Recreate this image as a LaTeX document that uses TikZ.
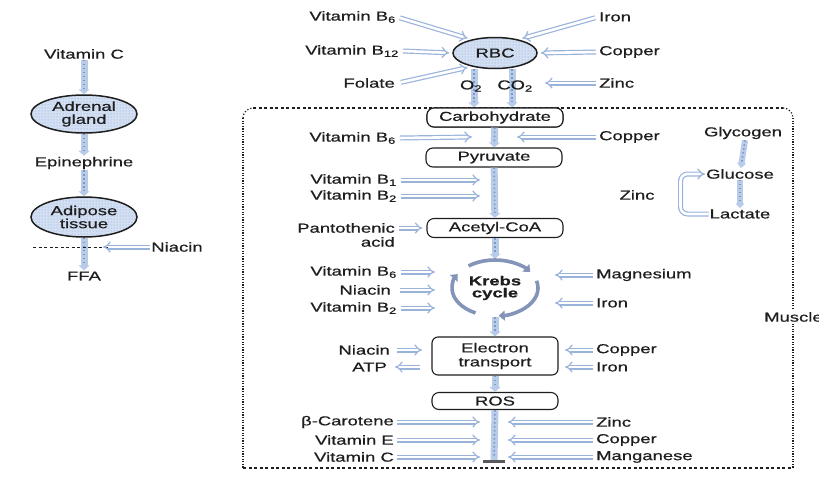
\documentclass[tikz,border=0pt]{standalone}
\usepackage{fontspec}
\setmainfont{Liberation Sans}[FakeStretch=1.42, FakeBold=0.6]
\usetikzlibrary{arrows.meta,shapes.geometric,patterns}
\definecolor{txtc}{HTML}{1E1E1E}
\definecolor{dblc}{HTML}{9AB3DB}
\definecolor{barc}{HTML}{B8CCEA}
\definecolor{bardot}{HTML}{7F98C4}
\definecolor{ellfill}{HTML}{D3E0F3}
\definecolor{dotc}{HTML}{8AA3CC}
\definecolor{cycc}{HTML}{8493B8}
\newcommand{\lblfont}{\fontsize{13}{14}\selectfont}
\begin{document}
\begin{tikzpicture}[x=1pt,y=-1pt,
  lbl/.style={font=\lblfont, text=txtc, inner sep=1pt},
  ell/.style={ellipse, draw=txtc, line width=1.5pt, preaction={fill=ellfill}, pattern=dots, pattern color=dotc, inner sep=0pt, align=center, font=\fontsize{13}{13}\selectfont, text=txtc},
  box/.style={draw=txtc, line width=1.1pt, fill=white, rounded corners=7pt, minimum width=136pt, minimum height=19pt, inner sep=1pt, font=\lblfont, text=txtc, align=center},
  dbl/.style={draw=dblc, double=white, double distance=2.6pt, line width=1.2pt, -{Implies}},
  bar/.style={line width=7pt, draw=barc, -{Triangle[width=11pt,length=5pt]}, postaction={draw=bardot, line width=1.6pt, dash pattern=on 1.5pt off 2.5pt, arrows=-, shorten >=5pt}},
  cyc/.style={line width=3.6pt, draw=cycc, -{Triangle[width=10pt,length=6pt]}},
  frameh/.style={draw=txtc, line width=1.1pt, dash pattern=on 3pt off 2.5pt},
  framev/.style={draw=txtc, line width=1.3pt, dash pattern=on 1.2pt off 1.4pt}
]
\useasboundingbox (0,0) rectangle (819,480);
\fill[white] (0,0) rectangle (819,480);

% ---------- muscle frame ----------
\draw[frameh] (253,108) -- (783,108);
\draw[framev] (243,118) -- (243,468);
\draw[framev] (793,118) -- (793,468);
\draw[frameh] (243,468) -- (793,468);
\draw[line width=1.2pt, draw=txtc, dotted] (243,118) arc[start angle=180, end angle=270, radius=10];
\draw[line width=1.2pt, draw=txtc, dotted] (783,108) arc[start angle=270, end angle=360, radius=10];
\node[lbl, fill=white, inner sep=2pt, anchor=west] (muscle) at (762,317) {Muscle};

% ---------- left column ----------
\node[lbl] (vc) at (84,54) {Vitamin C};
\node[ell, minimum width=106pt, minimum height=38pt] (adr) at (84,114) {Adrenal\\gland};
\node[lbl] (epi) at (84,163) {Epinephrine};
\node[ell, minimum width=106pt, minimum height=40pt] (adi) at (84,217) {Adipose\\tissue};
\node[lbl] (ffa) at (84,276) {FFA};
\node[lbl] (niacL) at (177,247) {Niacin};
\coordinate (dashL) at (33,247);
\coordinate (dashR) at (112,247);
\coordinate (niacEnd) at (103,247);
\draw[bar] (vc) -- (adr);
\draw[bar] (adr) -- (epi);
\draw[bar] (epi) -- (adi);
\draw[bar] (adi) -- (ffa);
\draw[txtc, line width=0.9pt, dash pattern=on 3pt off 2.5pt] (dashL) -- (dashR);
\draw[dbl] (niacL.west) -- (niacEnd);

% ---------- RBC ----------
\node[ell, minimum width=84pt, minimum height=31pt] (rbc) at (495,53) {RBC};
\node[box] (carb) at (495,117.5) {Carbohydrate};
\draw[bar] ([xshift=-21pt]rbc.south) -- ([xshift=-21pt]carb.north);
\draw[bar] ([xshift=17pt]rbc.south) -- ([xshift=17pt]carb.north);
\node[box] (carb) at (495,117.5) {Carbohydrate};
\node[lbl] (o2) at (471,86) {O\textsubscript{2}};
\node[lbl] (co2) at (515,86) {CO\textsubscript{2}};
\node[lbl, anchor=east] (b6a) at (397,17) {Vitamin B\textsubscript{6}};
\node[lbl, anchor=east] (b12) at (400,51) {Vitamin B\textsubscript{12}};
\node[lbl, anchor=east] (fol) at (396,83) {Folate};
\node[lbl, anchor=west] (iron1) at (598,17) {Iron};
\node[lbl, anchor=west] (cop1) at (598,52) {Copper};
\node[lbl, anchor=west] (zn1) at (598,83) {Zinc};
\coordinate (zn1End) at (545,83);
\draw[dbl, shorten >=4pt, shorten <=3pt] (b6a.east) -- (rbc.150);
\draw[dbl, shorten >=3pt] ([xshift=3pt]b12.east) -- (rbc.west);
\draw[dbl, shorten >=4pt, shorten <=3pt] ([xshift=2pt]fol.east) -- (rbc.210);
\draw[dbl, shorten >=4pt, shorten <=3pt] (iron1.west) -- (rbc.30);
\draw[dbl, shorten >=3pt, shorten <=2pt] (cop1.west) -- (rbc.east);
\draw[dbl, shorten <=2pt] (zn1.west) -- (zn1End);

% ---------- central pathway ----------
\node[box] (pyr) at (494,157.5) {Pyruvate};
\node[box] (acet) at (495,228) {Acetyl-CoA};
\node[ellipse, minimum width=88pt, minimum height=58pt, inner sep=0pt, align=center, font=\bfseries\fontsize{13}{12}\selectfont, text=txtc] (krebs) at (495,288) {Krebs\\cycle};
\node[box, minimum width=126pt, minimum height=38pt, rounded corners=6pt] (etr) at (495,356) {Electron\\transport};
\node[box, minimum width=126pt, minimum height=17pt] (ros) at (495,401) {ROS};
\coordinate (tbar) at (494,461);
\draw[bar] (carb) -- (pyr);
\draw[bar] (pyr) -- (acet);
\draw[bar] (acet) -- (krebs.north);
\draw[bar] (krebs.south) -- (etr);
\draw[bar] (etr) -- (ros);
\draw[bar, -] (ros.south) -- (tbar);
\draw[line width=3pt, draw=gray!70!black] ([xshift=-11pt]tbar) -- ([xshift=11pt]tbar);

% krebs cycle arcs
\draw[cyc] ([shift={(232:43 and 28)}]krebs.center) arc[start angle=232, end angle=325, x radius=43, y radius=28];
\draw[cyc] ([shift={(345:43 and 28)}]krebs.center) arc[start angle=345, end angle=445, x radius=43, y radius=28];
\draw[cyc] ([shift={(117:43 and 28)}]krebs.center) arc[start angle=117, end angle=210, x radius=43, y radius=28];

% carbohydrate -> pyruvate cofactors
\node[lbl, anchor=east] (b6b) at (397,138) {Vitamin B\textsubscript{6}};
\node[lbl, anchor=west] (cop2) at (598,137) {Copper};
\coordinate (b6bEnd) at (472,137);
\coordinate (cop2End) at (517,137);
\draw[dbl] ([xshift=3pt]b6b.east) -- (b6bEnd);
\draw[dbl, shorten <=2pt] (cop2.west) -- (cop2End);

% pyruvate -> acetyl-CoA
\node[lbl, anchor=east] (b1) at (398,180) {Vitamin B\textsubscript{1}};
\node[lbl, anchor=east] (b2a) at (398,196) {Vitamin B\textsubscript{2}};
\coordinate (b1End) at (480,180);
\coordinate (b2aEnd) at (480,196);
\draw[dbl] ([xshift=3pt]b1.east) -- (b1End);
\draw[dbl] ([xshift=3pt]b2a.east) -- (b2aEnd);
\node[lbl, anchor=east, align=right] (pant) at (396,235) {Pantothenic\\acid};
\draw[dbl, shorten >=4pt] ([xshift=3pt]pant.east |- acet.west) -- (acet.west);

% krebs cofactors
\node[lbl, anchor=east] (b6c) at (398,272) {Vitamin B\textsubscript{6}};
\node[lbl, anchor=east] (niac2) at (392,290) {Niacin};
\node[lbl, anchor=east] (b2b) at (398,308) {Vitamin B\textsubscript{2}};
\node[lbl, anchor=west] (mg) at (595,275) {Magnesium};
\node[lbl, anchor=west] (iron2) at (595,303) {Iron};
\coordinate (b6cEnd) at (435,272);
\coordinate (niac2End) at (435,290);
\coordinate (b2bEnd) at (435,308);
\coordinate (mgEnd) at (555,275);
\coordinate (iron2End) at (555,303);
\draw[dbl] ([xshift=3pt]b6c.east) -- (b6cEnd);
\draw[dbl] ([xshift=8pt]niac2.east) -- (niac2End);
\draw[dbl] ([xshift=3pt]b2b.east) -- (b2bEnd);
\draw[dbl, shorten <=2pt] (mg.west) -- (mgEnd);
\draw[dbl, shorten <=2pt] (iron2.west) -- (iron2End);

% electron transport
\node[lbl, anchor=east] (niac3) at (391,350) {Niacin};
\node[lbl, anchor=east] (atp) at (388,367) {ATP};
\node[lbl, anchor=west] (cop3) at (595,350) {Copper};
\node[lbl, anchor=west] (iron3) at (595,367) {Iron};
\coordinate (niac3End) at (422,350);
\coordinate (atpStart) at (420,367);
\coordinate (cop3End) at (565,350);
\coordinate (iron3End) at (565,367);
\draw[dbl] ([xshift=6pt]niac3.east) -- (niac3End);
\draw[dbl, shorten >=7pt] (atpStart) -- (atp.east);
\draw[dbl, shorten <=2pt] (cop3.west) -- (cop3End);
\draw[dbl, shorten <=2pt] (iron3.west) -- (iron3End);

% ROS antioxidants
\node[lbl, anchor=east] (bcar) at (395,422) {β-Carotene};
\node[lbl, anchor=east] (vite) at (395,440) {Vitamin E};
\node[lbl, anchor=east] (vitc) at (395,457) {Vitamin C};
\node[lbl, anchor=west] (zn3) at (595,422) {Zinc};
\node[lbl, anchor=west] (cop4) at (595,440) {Copper};
\node[lbl, anchor=west] (mn) at (595,457) {Manganese};
\foreach \n/\y in {bcar/422, vite/440, vitc/457} {
  \coordinate (\n End) at (480,\y);
  \draw[dbl, shorten <=2pt] (\n.east) -- (\n End);
}
\foreach \n/\y in {zn3/422, cop4/440, mn/457} {
  \coordinate (\n End) at (508,\y);
  \draw[dbl, shorten <=2pt] (\n.west) -- (\n End);
}

% ---------- glycogen / glucose / lactate ----------
\node[lbl] (glyc) at (743,133) {Glycogen};
\node[lbl] (gluc) at (740,174) {Glucose};
\node[lbl] (lact) at (740,214) {Lactate};
\node[lbl] (zn2) at (637,195) {Zinc};
\draw[bar, line width=6pt, -{Triangle[width=9pt,length=5pt]}] ([xshift=2pt]glyc.south) -- (gluc);
\draw[bar, line width=6pt, -{Triangle[width=9pt,length=5pt]}] (gluc) -- (lact);
\draw[dbl, rounded corners=7pt] (lact.west) -- ++(-28,0) |- (gluc.west);
\end{tikzpicture}
\end{document}
